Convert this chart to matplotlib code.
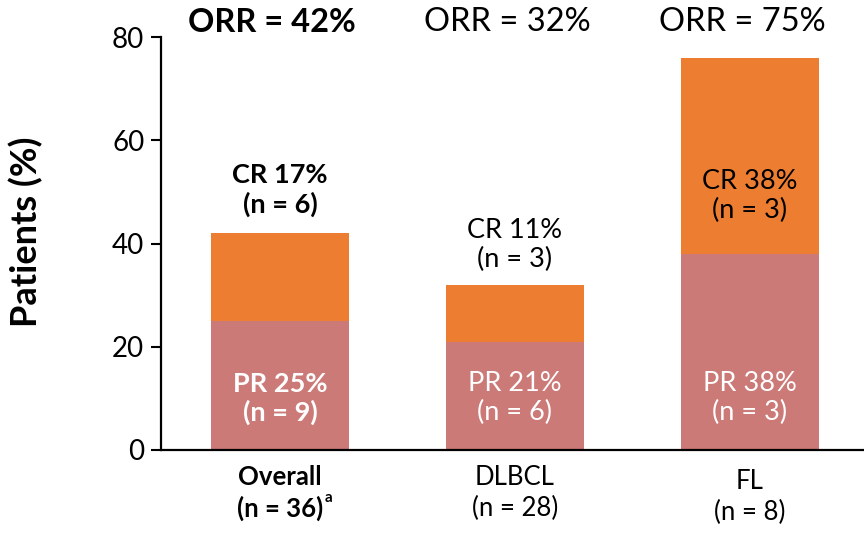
import matplotlib
matplotlib.use("Agg")
import matplotlib.pyplot as plt

plt.rcParams['font.family'] = ['Lato', 'DejaVu Sans']

# Response data by cohort
groups = ["Overall", "DLBCL", "FL"]
group_n = ["(n = 36)", "(n = 28)", "(n = 8)"]
pr_pct = [25, 21, 38]
cr_pct = [17, 11, 38]
pr_n = [9, 6, 3]
cr_n = [6, 3, 3]
orr_pct = [42, 32, 75]

# label heights (data units)
cr_label_y = [50.4, 39.7, 49.2]
pr_label_y = [10.0, 10.0, 10.0]

PR_COLOR = "#CC7A77"
CR_COLOR = "#ED7D31"

fig = plt.figure(figsize=(8.64, 5.35), dpi=100)
ax = fig.add_axes([0.1863, 0.1589, 1.0 - 0.1863, 0.9308 - 0.1589])

x = list(range(len(groups)))
width = 0.587
ax.bar(x, pr_pct, width, color=PR_COLOR, zorder=2)
ax.bar(x, cr_pct, width, bottom=pr_pct, color=CR_COLOR, zorder=2)

ax.set_ylim(0, 80)
ax.set_xlim(-0.506, 2.485)
ax.set_yticks([0, 20, 40, 60, 80])
ax.tick_params(axis='y', labelsize=20, length=7, width=1.5, direction='out', pad=5)
ax.tick_params(axis='x', length=0, labelsize=18.5, pad=11)
for s in ['top', 'right']:
    ax.spines[s].set_visible(False)
for s in ['left', 'bottom']:
    ax.spines[s].set_linewidth(1.6)

ax.set_ylabel("Patients (%)", fontsize=26, fontweight='bold')
ax.yaxis.set_label_coords(-0.168, 0.528)

ax.set_xticks(x)
ax.set_xticklabels([f"{g}\n{n}" for g, n in zip(groups, group_n)], linespacing=1.28)
ax.xaxis.get_major_ticks()[2].set_pad(14)
ticklabels = ax.get_xticklabels()
ticklabels[0].set_fontweight('bold')
ax.annotate("a", xy=(1, 0), xycoords=ticklabels[0], xytext=(1, 11),
            textcoords='offset points', fontsize=11, fontweight='bold',
            ha='left', va='bottom')

for i in range(len(groups)):
    bold = 'bold' if i == 0 else 'normal'
    ax.text(i - 0.033, 82.9, f"ORR = {orr_pct[i]}%", ha='center', va='center',
            fontsize=23.5, fontweight=bold, clip_on=False)
    ax.text(i, cr_label_y[i], f"CR {cr_pct[i]}%\n(n = {cr_n[i]})", ha='center',
            va='center', fontsize=19.5, fontweight=bold, color='black',
            linespacing=1.2, zorder=3)
    ax.text(i, pr_label_y[i], f"PR {pr_pct[i]}%\n(n = {pr_n[i]})", ha='center',
            va='center', fontsize=19.5, fontweight=bold, color='white',
            linespacing=1.2, zorder=3)

fig.savefig("out.png", dpi=100)
